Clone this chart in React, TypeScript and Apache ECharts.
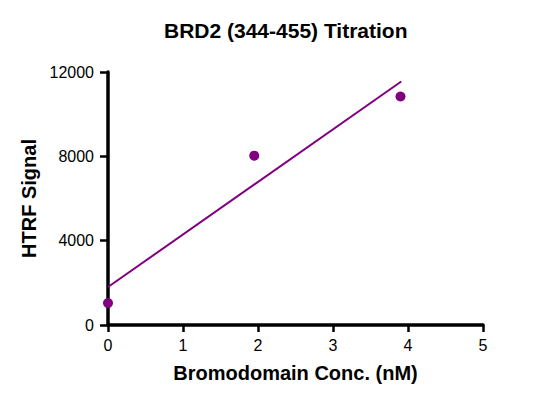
import React, { useEffect, useRef } from 'react';
import * as echarts from 'echarts';

const conc = [0, 1.95, 3.9];
const signal = [1040, 8030, 10840];
const fitX = [0, 3.91];
const fitY = [1800, 11550];
const xTicks = [0, 1, 2, 3, 4, 5];
const yTicks = [0, 4000, 8000, 12000];

const FONT = "Arial, 'Liberation Sans', Helvetica, sans-serif";
const PURPLE = '#800080';

export default function App() {
  const chartRef = useRef<HTMLDivElement>(null);

  useEffect(() => {
    if (!chartRef.current) return;
    const chart = echarts.init(chartRef.current, undefined, { renderer: 'svg' });

    const option = {
      animation: false,
      backgroundColor: '#ffffff',
      textStyle: { fontFamily: FONT },
      title: {
        text: 'BRD2 (344-455) Titration',
        left: 164,
        top: 20,
        padding: 0,
        textStyle: { fontFamily: FONT, fontSize: 21, fontWeight: 'bold', color: '#000' }
      },
      grid: { left: 108, right: 58, top: 72, bottom: 79 },
      xAxis: {
        type: 'value',
        min: xTicks[0],
        max: xTicks[xTicks.length - 1],
        interval: 1,
        name: 'Bromodomain Conc. (nM)',
        nameLocation: 'middle',
        nameGap: 38,
        nameTextStyle: { fontFamily: FONT, fontSize: 20, fontWeight: 'bold', color: '#000' },
        axisLine: { show: true, lineStyle: { color: '#000', width: 3.5 } },
        axisTick: { show: true, length: 7, lineStyle: { color: '#000', width: 2.5 } },
        axisLabel: { fontFamily: FONT, fontSize: 16, color: '#000', margin: 12 },
        splitLine: { show: false }
      },
      yAxis: {
        type: 'value',
        min: yTicks[0],
        max: yTicks[yTicks.length - 1],
        interval: 4000,
        name: 'HTRF Signal',
        nameLocation: 'middle',
        nameGap: 60,
        nameTextStyle: { fontFamily: FONT, fontSize: 20, fontWeight: 'bold', color: '#000' },
        axisLine: { show: true, lineStyle: { color: '#000', width: 3.5 } },
        axisTick: { show: true, length: 8, lineStyle: { color: '#000', width: 2.5 } },
        axisLabel: {
          fontFamily: FONT,
          fontSize: 16,
          color: '#000',
          margin: 14,
          formatter: (v: number) => String(v)
        },
        splitLine: { show: false }
      },
      series: [
        {
          type: 'line',
          data: fitX.map((x, i) => [x, fitY[i]]),
          showSymbol: false,
          lineStyle: { color: PURPLE, width: 2 },
          silent: true
        },
        {
          type: 'scatter',
          data: conc.map((x, i) => [x, signal[i]]),
          symbol: 'circle',
          symbolSize: 10,
          itemStyle: { color: PURPLE, opacity: 1 }
        }
      ]
    };

    chart.setOption(option);
    return () => chart.dispose();
  }, []);

  return (
    <div
      ref={chartRef}
      style={{ position: 'fixed', left: 0, top: 0, width: 541, height: 404 }}
    />
  );
}
